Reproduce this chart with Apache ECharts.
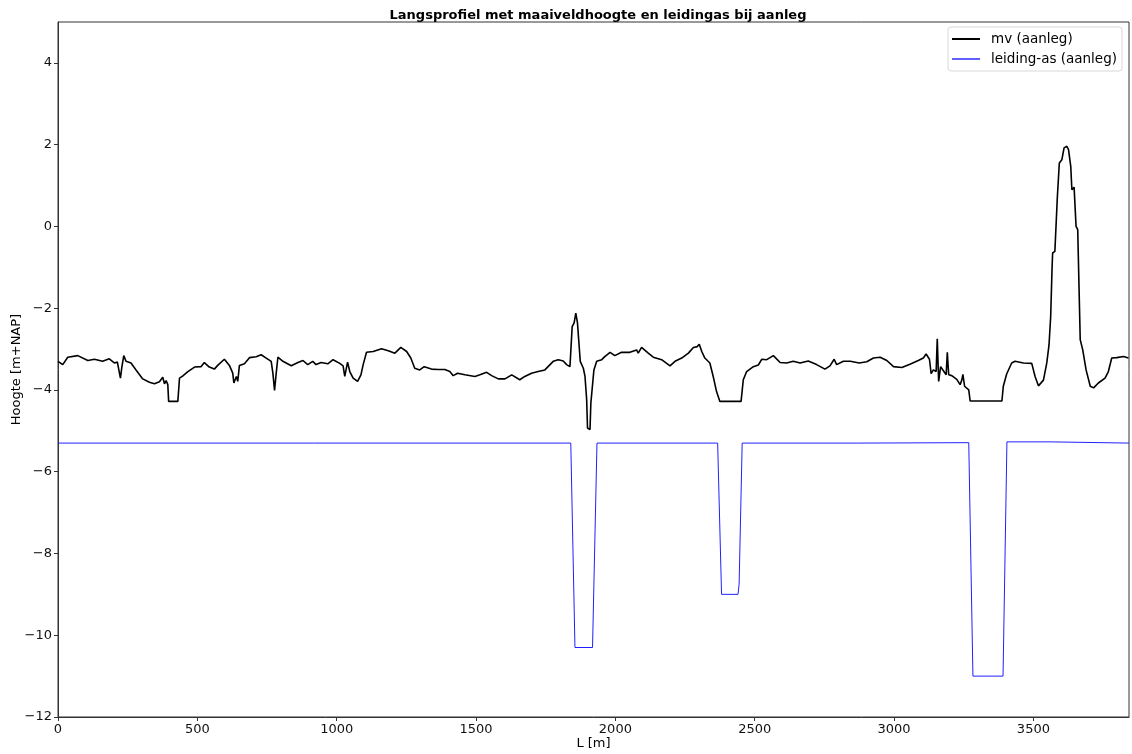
<!DOCTYPE html>
<html>
<head>
<meta charset="utf-8">
<script src="https://cdn.jsdelivr.net/npm/echarts@6/dist/echarts.min.js"></script>
<style>
  html, body { margin: 0; padding: 0; background: #fff; }
  #panel { width: 1132px; height: 754px; }
</style>
</head>
<body>
<div id="panel"></div>
<script>
// maaiveld (aanleg): afstand L [m] en hoogte [m+NAP]
const mvL = [0, 17, 35, 71, 107, 131, 160, 184, 202, 213, 224, 229, 236, 244, 262, 280, 304, 328, 346, 364,
  376, 382, 388, 394, 397, 430, 436, 447, 466, 490, 513, 525, 543, 561, 573, 597, 615, 627, 631, 640,
  645, 651, 669, 687, 711, 729, 747, 765, 771, 777, 783, 789, 807, 837, 861, 879, 896, 914, 926, 944,
  968, 987, 1011, 1023, 1029, 1039, 1047, 1059, 1075, 1087, 1095, 1107, 1131, 1161, 1185, 1209, 1230, 1251, 1266, 1280,
  1298, 1314, 1340, 1364, 1388, 1406, 1418, 1434, 1460, 1496, 1514, 1538, 1556, 1580, 1604, 1628, 1657, 1675, 1699, 1723,
  1747, 1777, 1795, 1813, 1825, 1837, 1843, 1845, 1852, 1858, 1864, 1869, 1874, 1885, 1891, 1897, 1900, 1909, 1912, 1923,
  1933, 1951, 1963, 1981, 1998, 2022, 2052, 2076, 2082, 2094, 2118, 2136, 2166, 2196, 2214, 2238, 2262, 2280, 2294, 2301,
  2310, 2321, 2339, 2351, 2363, 2369, 2375, 2451, 2459, 2471, 2495, 2513, 2525, 2543, 2567, 2591, 2615, 2638, 2663, 2692,
  2722, 2752, 2770, 2785, 2794, 2818, 2843, 2875, 2902, 2926, 2950, 2974, 2998, 3028, 3057, 3087, 3105, 3115, 3127, 3133,
  3141, 3151, 3155, 3160, 3167, 3177, 3187, 3191, 3196, 3207, 3225, 3237, 3243, 3247, 3253, 3260, 3268, 3273, 3387, 3392,
  3404, 3422, 3434, 3464, 3494, 3506, 3518, 3524, 3536, 3548, 3556, 3562, 3567, 3569, 3577, 3586, 3593, 3602, 3610, 3620,
  3626, 3634, 3638, 3646, 3653, 3659, 3668, 3677, 3689, 3704, 3716, 3733, 3757, 3769, 3781, 3799, 3823, 3841];
const mvH = [-3.30, -3.38, -3.20, -3.16, -3.28, -3.25, -3.30, -3.24, -3.34, -3.32, -3.71, -3.45, -3.16, -3.30, -3.34, -3.51, -3.73, -3.81, -3.85, -3.80,
  -3.69, -3.85, -3.77, -3.87, -4.28, -4.28, -3.71, -3.66, -3.55, -3.44, -3.43, -3.33, -3.44, -3.49, -3.40, -3.25, -3.40, -3.59, -3.83, -3.67,
  -3.79, -3.40, -3.36, -3.21, -3.19, -3.14, -3.22, -3.30, -3.59, -4.01, -3.59, -3.20, -3.30, -3.41, -3.33, -3.28, -3.38, -3.30, -3.38, -3.33,
  -3.36, -3.26, -3.35, -3.41, -3.67, -3.32, -3.55, -3.71, -3.79, -3.63, -3.38, -3.08, -3.06, -2.99, -3.04, -3.10, -2.96, -3.06, -3.22, -3.47,
  -3.51, -3.43, -3.49, -3.50, -3.50, -3.55, -3.65, -3.59, -3.63, -3.67, -3.63, -3.57, -3.65, -3.73, -3.73, -3.63, -3.75, -3.67, -3.59, -3.55,
  -3.51, -3.30, -3.26, -3.29, -3.38, -3.43, -3.39, -2.45, -2.36, -2.12, -2.36, -2.34, -3.30, -3.47, -3.67, -4.24, -4.93, -4.97, -4.32, -3.51,
  -3.30, -3.26, -3.18, -3.08, -3.16, -3.08, -3.08, -3.02, -3.10, -2.96, -3.10, -3.20, -3.26, -3.41, -3.30, -3.22, -3.10, -2.96, -2.94, -2.88,
  -3.06, -3.22, -3.34, -3.67, -4.04, -4.08, -4.28, -4.28, -3.75, -3.55, -3.43, -3.39, -3.25, -3.26, -3.16, -3.33, -3.34, -3.30, -3.34, -3.29,
  -3.38, -3.49, -3.41, -3.25, -3.38, -3.30, -3.30, -3.34, -3.31, -3.22, -3.20, -3.28, -3.43, -3.45, -3.37, -3.28, -3.22, -3.12, -3.25, -3.60,
  -3.51, -3.55, -2.75, -3.79, -3.43, -3.53, -3.63, -3.08, -3.63, -3.65, -3.74, -3.87, -3.76, -3.62, -3.91, -3.94, -4.00, -4.27, -4.27, -3.91,
  -3.61, -3.34, -3.30, -3.34, -3.35, -3.67, -3.90, -3.90, -3.76, -3.34, -2.90, -2.20, -1.00, -0.65, -0.61, 0.73, 1.55, 1.63, 1.92, 1.96,
  1.88, 1.47, 0.90, 0.96, 0.00, -0.08, -2.77, -3.02, -3.51, -3.91, -3.95, -3.83, -3.71, -3.55, -3.22, -3.21, -3.18, -3.22];

// leiding-as (aanleg)
const asL = [0, 1840, 1855, 1918, 1934, 2367, 2381, 2440, 2444, 2455, 2870, 2871, 3268, 3283, 3391, 3405, 3560, 3561, 3843];
const asH = [-5.3, -5.3, -10.3, -10.3, -5.3, -5.3, -9.0, -9.0, -8.75, -5.3, -5.3, -5.29, -5.29, -11.0, -11.0, -5.27, -5.27, -5.3, -5.3];

const xMax = 3843;
const yTicks = { min: -12, max: 5, step: 2 };
const xTicks = { min: 0, max: xMax, step: 500 };

const zip = (a, b) => a.map((v, i) => [v, b[i]]);
const FONT = 'DejaVu Sans';
const fmtNum = v => String(v).replace('-', '\u2212');

const chart = echarts.init(document.getElementById('panel'));
const option = {
  backgroundColor: '#ffffff',
  animation: false,
  title: {
    text: 'Langsprofiel met maaiveldhoogte en leidingas bij aanleg',
    left: 593,
    textAlign: 'center',
    top: 4,
    textStyle: { fontFamily: FONT, fontSize: 13, fontWeight: 'bold', color: '#000' },
  },
  legend: {
    right: 10,
    top: 27,
    orient: 'vertical',
    itemWidth: 28,
    itemHeight: 2,
    itemGap: 6,
    padding: [5, 5, 5, 4],
    borderColor: '#d8d8d8',
    borderWidth: 1,
    borderRadius: 3,
    backgroundColor: 'rgba(255,255,255,0.8)',
    icon: 'rect',
    textStyle: { fontFamily: FONT, fontSize: 13.5, color: '#000', padding: [0, 0, 0, 6] },
    data: ['mv (aanleg)', 'leiding-as (aanleg)'],
  },
  grid: {
    left: 58,
    right: 3,
    top: 22,
    bottom: 37,
    outerBoundsMode: 'none',
    show: true,
    borderColor: '#333',
    borderWidth: 1,
  },
  xAxis: {
    type: 'value',
    min: xTicks.min,
    max: xTicks.max,
    interval: xTicks.step,
    name: 'L [m]',
    nameLocation: 'middle',
    nameGap: 20,
    nameMoveOverlap: false,
    nameTextStyle: { fontFamily: FONT, fontSize: 13, color: '#000' },
    axisLine: { show: true, onZero: false, lineStyle: { color: '#333', width: 1 } },
    axisTick: { show: true, length: 4, lineStyle: { color: '#333' } },
    axisLabel: {
      fontFamily: FONT, fontSize: 13, color: '#111', margin: 6,
      showMaxLabel: false, formatter: fmtNum,
    },
    splitLine: { show: false },
  },
  yAxis: {
    type: 'value',
    min: yTicks.min,
    max: yTicks.max,
    interval: yTicks.step,
    name: 'Hoogte [m+NAP]',
    nameLocation: 'middle',
    nameGap: 35,
    nameRotate: 90,
    nameMoveOverlap: false,
    nameTextStyle: { fontFamily: FONT, fontSize: 13, color: '#000' },
    axisLine: { show: true, onZero: false, lineStyle: { color: '#333', width: 1 } },
    axisTick: { show: true, length: 4, lineStyle: { color: '#333' } },
    axisLabel: {
      fontFamily: FONT, fontSize: 13, color: '#111', margin: 6,
      showMaxLabel: false, formatter: fmtNum,
    },
    splitLine: { show: false },
  },
  series: [
    {
      name: 'mv (aanleg)',
      type: 'line',
      showSymbol: false,
      data: zip(mvL, mvH),
      lineStyle: { color: '#000', width: 1.6 },
      itemStyle: { color: '#000' },
    },
    {
      name: 'leiding-as (aanleg)',
      type: 'line',
      showSymbol: false,
      data: zip(asL, asH),
      lineStyle: { color: '#2020ff', width: 1 },
      itemStyle: { color: '#6060ff' },
    },
  ],
};
chart.setOption(option);
</script>
</body>
</html>
